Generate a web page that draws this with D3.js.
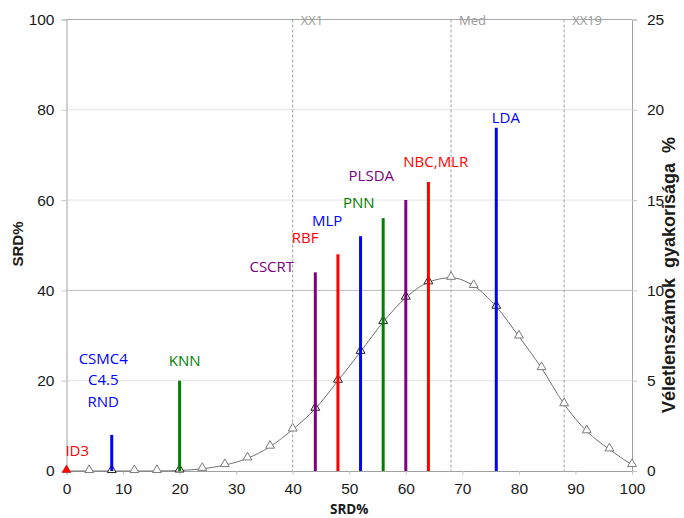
<!DOCTYPE html>
<html>
<head>
<meta charset="utf-8">
<script src="https://cdn.jsdelivr.net/npm/d3@7"></script>
<style>
  body { margin: 0; background: #fff; }
  #chart { width: 684px; height: 518px; }
</style>
</head>
<body>
<div id="chart"></div>
<script>
// Methods: SRD% position and bar height
const methodNames = [["ID3"], ["CSMC4", "C4.5", "RND"], ["KNN"], ["CSCRT"], ["RBF"], ["MLP"], ["PNN"], ["PLSDA"], ["NBC,MLR"], ["LDA"]];
const methodSRD = [0, 8, 20, 44, 48, 52, 56, 60, 64, 76];
const methodHeight = [0, 8, 20, 44, 48, 52, 56, 60, 64, 76];
const methodColors = ["#ff0000", "#0000ff", "#008000", "#800080", "#ff0000", "#0000ff", "#008000", "#800080", "#ff0000", "#0000ff"];
// label anchor (centre x, first baseline y) in data units
const labelX = [1.9, 6.5, 20.9, 36.3, 42.2, 46.1, 51.7, 53.9, 65.3, 77.7];
const labelY = [3.3, 23.7, 23.3, 44.1, 50.4, 54.2, 58.3, 64.2, 67.4, 77.1];

// Random-number frequency distribution (right axis)
const randSRD = [0, 4, 8, 12, 16, 20, 24, 28, 32, 36, 40, 44, 48, 52, 56, 60, 64, 68, 72, 76, 80, 84, 88, 92, 96, 100];
const randFreq = [0, 0, 0, 0, 0, 0.03, 0.12, 0.33, 0.7, 1.35, 2.3, 3.45, 5.0, 6.6, 8.25, 9.6, 10.45, 10.7, 10.25, 9.1, 7.45, 5.7, 3.7, 2.2, 1.2, 0.33];

// Reference lines
const refSRD = [40, 68, 88];
const refLabels = ["XX1", "Med", "XX19"];

// Ticks
const xTicks = [0, 10, 20, 30, 40, 50, 60, 70, 80, 90, 100];
const yTicks = [0, 20, 40, 60, 80, 100];
const y2Ticks = [0, 5, 10, 15, 20, 25];

const width = 684, height = 518;
const margin = { top: 19.5, right: 52, bottom: 47, left: 66.5 };

const svg = d3.select("#chart").append("svg")
    .attr("width", width)
    .attr("height", height)
    .style("display", "block");

const x = d3.scaleLinear().domain([0, 100]).range([margin.left, width - margin.right]);
const y = d3.scaleLinear().domain([0, 100]).range([height - margin.bottom, margin.top]);
const y2 = d3.scaleLinear().domain([0, 25]).range([height - margin.bottom, margin.top]);

const tickFont = "'Liberation Sans', Arial, sans-serif";

// Horizontal gridlines
svg.append("g")
    .selectAll("line")
    .data(yTicks.filter(d => d > 0))
    .join("line")
    .attr("x1", x(0)).attr("x2", x(100))
    .attr("y1", d => y(d)).attr("y2", d => y(d))
    .attr("stroke", d => d === 40 ? "#bdbdbd" : (d === 100 ? "#a6a6a6" : "#e3e3e3"))
    .attr("stroke-width", 1);

// Reference (dashed) lines
svg.append("g")
    .selectAll("line")
    .data(refSRD)
    .join("line")
    .attr("x1", d => x(d)).attr("x2", d => x(d))
    .attr("y1", y(100)).attr("y2", y(0))
    .attr("stroke", "#a0a0a0")
    .attr("stroke-dasharray", "3,2")
    .attr("stroke-width", 1);

svg.append("g")
    .selectAll("text")
    .data(refSRD)
    .join("text")
    .attr("x", d => x(d) + 8)
    .attr("y", y(100) + 5)
    .style("font-family", "'Open Sans', sans-serif")
    .style("font-size", "13px")
    .style("fill", "#9a9a9a")
    .text((d, i) => refLabels[i]);

// Axes
const xAxis = svg.append("g")
    .attr("transform", `translate(0,${y(0)})`)
    .call(d3.axisBottom(x).tickValues(xTicks).tickSize(4).tickPadding(8));
const yAxis = svg.append("g")
    .attr("transform", `translate(${x(0)},0)`)
    .call(d3.axisLeft(y).tickValues(yTicks).tickSize(5).tickPadding(7));
const y2Axis = svg.append("g")
    .attr("transform", `translate(${x(100)},0)`)
    .call(d3.axisRight(y2).tickValues(y2Ticks).tickSize(5).tickPadding(10));

[xAxis, yAxis, y2Axis].forEach(g => {
    g.select(".domain").attr("stroke", "#a0a0a0");
    g.selectAll(".tick line").attr("stroke", "#c8c8c8");
    g.selectAll(".tick text")
        .style("font-family", tickFont)
        .style("font-size", "15.5px")
        .style("fill", "#1a1a1a");
});

// Smoothed distribution curve
const lineGen = d3.line()
    .x((d, i) => x(randSRD[i]))
    .y(d => y2(d))
    .curve(d3.curveMonotoneX);

svg.append("path")
    .datum(randFreq)
    .attr("fill", "none")
    .attr("stroke", "#707070")
    .attr("stroke-width", 1)
    .attr("d", lineGen);

// Triangle markers on the curve
const tri = d3.symbol().type(d3.symbolTriangle).size(34);
svg.append("g")
    .selectAll("path")
    .data(randFreq)
    .join("path")
    .attr("d", tri)
    .attr("transform", (d, i) => `translate(${x(randSRD[i])},${y2(d) - 1})`)
    .attr("fill", "#fff")
    .attr("stroke", (d, i) => methodSRD.includes(randSRD[i]) && randSRD[i] > 0 ? "#222" : "#7a7a7a")
    .attr("stroke-width", 1);

// Method bars
svg.append("g")
    .selectAll("line")
    .data(methodHeight)
    .join("line")
    .attr("x1", (d, i) => x(methodSRD[i])).attr("x2", (d, i) => x(methodSRD[i]))
    .attr("y1", y(0)).attr("y2", d => y(d))
    .attr("stroke", (d, i) => methodColors[i])
    .attr("stroke-width", 3);

// Zero-height method shown as a filled triangle
svg.append("g")
    .selectAll("path")
    .data(methodHeight.map((d, i) => i).filter(i => methodHeight[i] === 0))
    .join("path")
    .attr("d", tri)
    .attr("transform", i => `translate(${x(methodSRD[i])},${y(0) - 1})`)
    .attr("fill", i => methodColors[i]);

// Method labels
const labels = svg.append("g")
    .selectAll("text")
    .data(methodNames)
    .join("text")
    .attr("x", (d, i) => x(labelX[i]))
    .attr("y", (d, i) => y(labelY[i]))
    .attr("text-anchor", "middle")
    .style("font-family", "'Open Sans', sans-serif")
    .style("font-size", "15px")
    .style("fill", (d, i) => methodColors[i]);

labels.selectAll("tspan")
    .data(d => d)
    .join("tspan")
    .attr("x", function() { return d3.select(this.parentNode).attr("x"); })
    .attr("dy", (d, j) => j === 0 ? 0 : 21.5)
    .text(d => d);

// Axis titles
svg.append("text")
    .attr("transform", "translate(23,244) rotate(-90)")
    .attr("text-anchor", "middle")
    .style("font-family", tickFont)
    .style("font-weight", "bold")
    .style("font-size", "15px")
    .style("fill", "#1a1a1a")
    .text("SRD%");

svg.append("text")
    .attr("x", (x(0) + x(100)) / 2)
    .attr("y", 514)
    .attr("text-anchor", "middle")
    .style("font-family", "'Open Sans', sans-serif")
    .style("font-weight", "bold")
    .style("font-size", "13.5px")
    .style("fill", "#1a1a1a")
    .text("SRD%");

svg.append("text")
    .attr("transform", "translate(675,275) rotate(-90)")
    .attr("text-anchor", "middle")
    .attr("xml:space", "preserve")
    .style("white-space", "pre")
    .style("font-family", tickFont)
    .style("font-weight", "bold")
    .style("font-size", "18px")
    .style("fill", "#1a1a1a")
    .text("Véletlenszámok  gyakorisága  %");
</script>
</body>
</html>
